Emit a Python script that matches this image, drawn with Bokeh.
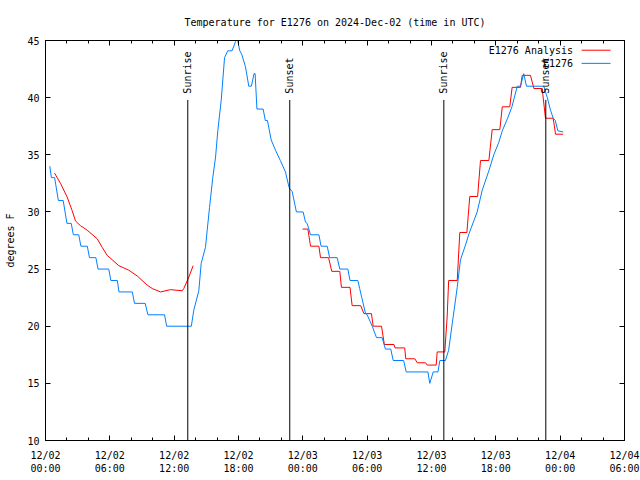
import numpy as np
import pandas as pd
from bokeh.plotting import figure
from bokeh.models import (LinearAxis, DatetimeAxis, FixedTicker, Range1d,
                          ColumnDataSource, DatetimeTickFormatter, CustomJSTickFormatter)
from bokeh.core.properties import value
from bokeh.embed import file_html
from bokeh.resources import INLINE

BASE = pd.Timestamp("2024-12-02 00:00")

# Observed temperature (E1276), hours since 12/02 00:00 UTC, degrees F
obs_hours = [0.40, 0.55, 0.85, 1.20, 1.65, 2.00, 2.40, 2.60, 3.10, 3.30, 3.90, 4.10,
             4.70, 4.90, 5.90, 6.10, 6.70, 6.85, 8.10, 8.30, 9.30, 9.55, 11.10, 11.30,
             13.60, 13.83, 14.30, 14.52, 14.92, 15.08, 15.30, 15.60, 15.86, 16.07, 16.39,
             16.70, 17.00, 17.40, 17.72, 17.85, 17.95, 18.12, 18.30, 18.65, 18.96, 19.20,
             19.45, 19.55, 19.72, 20.30, 20.50, 20.70, 21.05, 21.45, 21.90, 22.38, 22.70,
             22.80, 23.00, 23.40, 24.03, 24.25, 24.40, 24.72, 25.50, 25.70, 26.27, 26.50,
             27.20, 27.45, 28.20, 28.40, 29.13, 29.30, 29.50, 29.85, 30.00, 30.47, 30.87,
             31.40, 31.70, 32.20, 32.43, 33.40, 33.64, 35.66, 35.84, 36.16, 36.60, 36.78,
             37.30, 37.60, 37.93, 38.40, 38.70, 39.17, 39.50, 40.26, 40.73, 41.35, 41.81,
             42.28, 42.60, 43.10, 43.50, 44.00, 44.30, 44.60, 44.86, 46.47, 46.80, 47.10,
             47.35, 47.55, 47.78, 48.28]
obs_temp = [34.0, 33.0, 33.0, 31.0, 31.0, 29.0, 29.0, 28.0, 28.0, 27.0, 27.0, 26.0,
            26.0, 25.0, 25.0, 24.0, 24.0, 23.0, 23.0, 22.0, 22.0, 21.0, 21.0, 20.0,
            20.0, 21.4, 23.1, 25.5, 26.9, 28.4, 30.4, 33.0, 34.8, 37.1, 39.8,
            43.5, 44.1, 44.1, 44.9, 45.3, 44.9, 44.1, 43.8, 42.7, 41.0, 41.0,
            42.1, 42.1, 39.0, 39.0, 38.0, 38.0, 36.3, 35.4, 34.5, 33.5, 32.2,
            32.0, 31.8, 30.0, 30.0, 29.1, 29.0, 28.0, 28.0, 27.0, 27.0, 26.0,
            26.0, 25.0, 25.0, 24.0, 24.0, 23.3, 22.5, 21.1, 21.0, 20.0, 19.0,
            19.0, 18.0, 18.0, 17.0, 17.0, 16.0, 16.0, 15.0, 16.0, 16.0, 17.0,
            17.0, 17.9, 20.2, 23.4, 25.8, 27.1, 28.1, 30.0, 31.9, 33.6, 35.0,
            36.1, 37.1, 38.2, 39.2, 41.0, 41.0, 42.1, 41.0, 41.0, 40.0, 38.9,
            38.2, 38.0, 37.1, 37.0]

# Analysis (E1276 Analysis), first day piece
ana1_hours = [0.84, 1.40, 2.02, 2.49, 2.80, 3.26, 3.89, 4.82, 5.29, 5.75, 6.84, 7.77,
              8.55, 9.48, 9.95, 10.73, 11.66, 12.75, 12.90, 13.37, 13.77]
ana1_temp = [33.4, 32.5, 31.3, 30.1, 29.2, 28.8, 28.4, 27.65, 26.9, 26.2, 25.3, 24.9,
             24.4, 23.6, 23.3, 23.0, 23.2, 23.1, 23.3, 24.3, 25.3]
# Analysis, second piece
ana2_hours = [23.97, 24.47, 24.72, 25.50, 25.65, 26.40, 26.70, 27.45, 27.60, 28.40,
              28.60, 29.40, 29.70, 30.40, 30.56, 31.34, 31.60, 32.50, 32.60, 33.50,
              33.60, 34.45, 34.67, 35.44, 35.60, 36.44, 36.53, 37.24, 37.46, 37.60,
              38.40, 38.64, 39.30, 39.57, 40.30, 40.57, 41.35, 41.66, 42.37, 42.60,
              43.30, 43.52, 44.30, 44.46, 45.23, 45.55, 46.32, 46.63, 47.35, 47.57, 48.28]
ana2_temp = [28.5, 28.5, 27.0, 27.0, 26.0, 26.0, 24.8, 24.8, 23.4, 23.4,
             21.8, 21.8, 21.1, 21.1, 20.0, 20.0, 18.4, 18.4, 18.1, 18.1,
             17.15, 17.15, 16.8, 16.8, 16.6, 16.6, 17.75, 17.75, 20.8, 24.0,
             24.0, 28.2, 28.2, 31.35, 31.35, 34.5, 34.5, 37.2, 37.2, 39.2,
             39.2, 40.9, 40.9, 41.95, 41.95, 40.8, 40.8, 38.2, 38.2, 36.8, 36.8]

sun_hours = [13.27, 22.78, 37.15, 46.66]
sun_labels = ["Sunrise", "Sunset", "Sunrise", "Sunset"]

y_ticks = [10, 15, 20, 25, 30, 35, 40, 45]
x_major_hours = [0, 6, 12, 18, 24, 30, 36, 42, 48, 54]
x_minor_hours = list(range(0, 55, 2))

series_names = ["E1276 Analysis", "E1276"]
series_colors = ["#ff0000", "#0080ff"]

FONT = "DejaVu Sans Mono"


def to_dt(hours):
    return [BASE + pd.Timedelta(hours=h) for h in hours]


def to_ms(hours):
    return [(BASE + pd.Timedelta(hours=h)).value / 1e6 for h in hours]


x_start, x_end = to_dt([0, 54])
p = figure(width=640, height=480, x_axis_type="datetime",
           x_range=Range1d(x_start, x_end), y_range=Range1d(10, 45),
           output_backend="svg", toolbar_location=None,
           min_border_left=45, min_border_right=16, min_border_top=40, min_border_bottom=40)

p.title.text = "Temperature for E1276 on 2024-Dec-02 (time in UTC)"
p.title.align = "center"
p.title.text_font = FONT
p.title.text_font_size = "10px"
p.title.text_font_style = "normal"
p.title.text_color = "black"
p.title.standoff = 25

p.xgrid.visible = False
p.ygrid.visible = False
p.outline_line_color = "black"
p.outline_line_width = 1

xticker = FixedTicker(ticks=to_ms(x_major_hours), minor_ticks=to_ms(x_minor_hours))
yticker = FixedTicker(ticks=y_ticks, minor_ticks=[])
fmt = "%m/%d\n%H:%M"
xfmt = DatetimeTickFormatter(hours=fmt, hourmin=fmt, days=fmt, months=fmt,
                             minutes=fmt, seconds=fmt, minsec=fmt, milliseconds=fmt,
                             microseconds=fmt, years=fmt)
blank = CustomJSTickFormatter(code="return '';")


def style_axis(ax):
    ax.axis_line_color = "black"
    ax.major_tick_in = 5
    ax.major_tick_out = 0
    ax.minor_tick_in = 3
    ax.minor_tick_out = 0
    ax.major_tick_line_color = "black"
    ax.minor_tick_line_color = "black"
    ax.major_label_text_font = FONT
    ax.major_label_text_font_size = "10px"
    ax.major_label_text_color = "black"
    ax.major_label_standoff = 6


xa = p.xaxis[0]
xa.ticker = xticker
xa.formatter = xfmt
style_axis(xa)
xa.major_label_standoff = 9

ya = p.yaxis[0]
ya.ticker = yticker
style_axis(ya)
ya.major_label_standoff = 6
ya.axis_label = "degrees F"
ya.axis_label_text_font = FONT
ya.axis_label_text_font_size = "10px"
ya.axis_label_text_font_style = "normal"
ya.axis_label_text_color = "black"
ya.axis_label_standoff = 8

top = DatetimeAxis(ticker=xticker, formatter=blank)
style_axis(top)
top.major_label_standoff = 0
p.add_layout(top, "above")

right = LinearAxis(ticker=yticker, formatter=blank)
style_axis(right)
right.major_label_standoff = 0
p.add_layout(right, "right")

# data lines
p.line(to_dt(ana1_hours), ana1_temp, line_color=series_colors[0], line_width=1)
p.line(to_dt(ana2_hours), ana2_temp, line_color=series_colors[0], line_width=1)
p.line(to_dt(obs_hours), obs_temp, line_color=series_colors[1], line_width=1)

# sunrise / sunset markers
sun_dt = to_dt(sun_hours)
line_top = 39.8
label_y = 40.35
p.segment(x0=sun_dt, y0=[10] * len(sun_dt), x1=sun_dt, y1=[line_top] * len(sun_dt),
          line_color="black", line_width=1)
sun_src = ColumnDataSource(dict(x=sun_dt, y=[label_y] * len(sun_dt), t=sun_labels))
p.text(x="x", y="y", text="t", source=sun_src, angle=np.pi / 2,
       text_align="left", text_baseline="middle", text_font=value(FONT),
       text_font_size="10px", text_color="black")

# legend (label left, sample right, gnuplot style)
leg_text_x = to_dt([49.2, 49.2])
leg_y = [44.15, 43.0]
leg_src = ColumnDataSource(dict(x=leg_text_x, y=leg_y, t=series_names))
p.text(x="x", y="y", text="t", source=leg_src, text_align="right",
       text_baseline="middle", text_font=value(FONT), text_font_size="10px",
       text_color="black")
p.segment(x0=to_dt([50.0, 50.0]), y0=leg_y, x1=to_dt([52.7, 52.7]), y1=leg_y,
          line_color=series_colors, line_width=1)

open("out.html", "w").write(file_html(p, INLINE))
